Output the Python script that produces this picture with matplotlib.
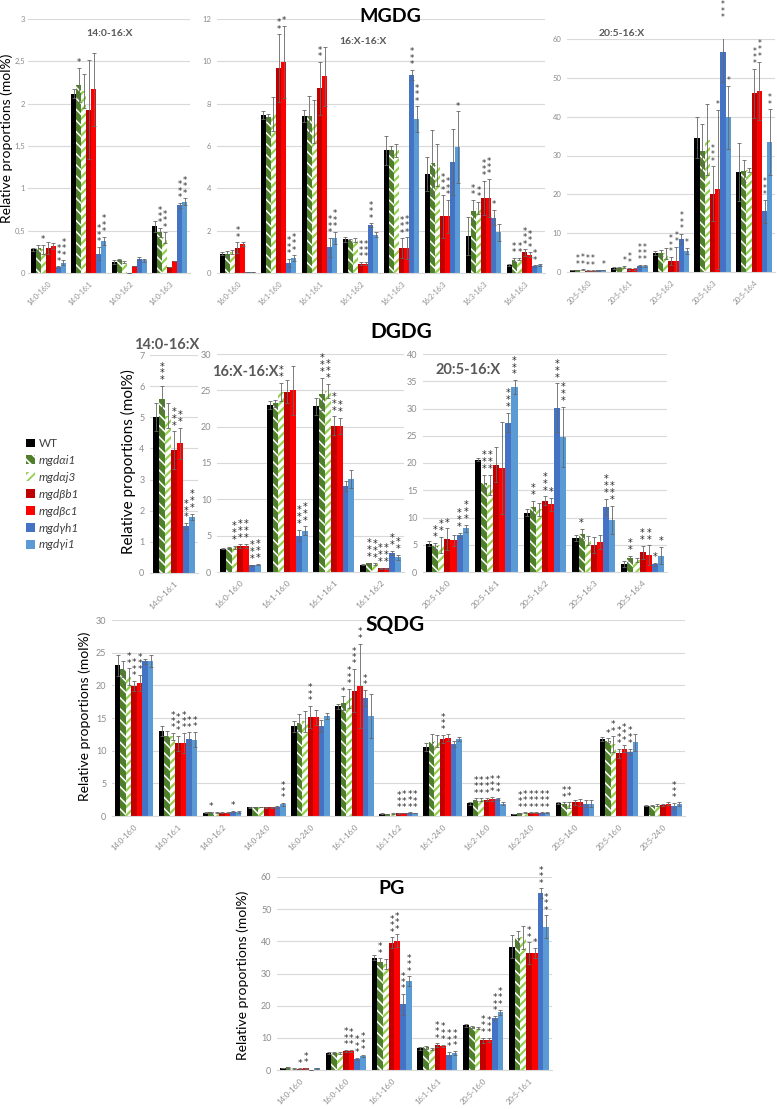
import matplotlib
matplotlib.use("Agg")
import matplotlib.pyplot as plt
from matplotlib.patches import Patch
import numpy as np

plt.rcParams['font.family'] = ['Lato', 'DejaVu Sans']
plt.rcParams['hatch.linewidth'] = 1.3

W, H = 777, 1109

genotypes = ['WT', 'mgdαi1', 'mgdαj3', 'mgdβb1', 'mgdβc1', 'mgdγh1', 'mgdγi1']
face_colors = ['#000000', '#4f7f2a', 'white', '#c00000', '#ff0000', '#4472c4', '#5b9bd5']
edge_colors = ['#000000', 'white', '#92d050', '#c00000', '#ff0000', '#4472c4', '#5b9bd5']
hatches = [None, '\\\\\\', '////', None, None, None, None]
hatch_lws = [1.0, 1.1, 1.6, 1.0, 1.0, 1.0, 1.0]

# ---------------- MGDG ----------------
mgdg1_cats = ['14:0-16:0', '14:0-16:1', '14:0-16:2', '14:0-16:3']
mgdg1_vals = [[0.28, 0.29, 0.28, 0.30, 0.32, 0.07, 0.12],
              [2.12, 2.22, 2.15, 1.93, 2.17, 0.23, 0.38],
              [0.13, 0.15, 0.13, 0.00, 0.08, 0.17, 0.15],
              [0.55, 0.48, 0.42, 0.07, 0.14, 0.80, 0.84]]
mgdg1_errs = [[0.02, 0.04, 0.05, 0.07, 0.04, 0.01, 0.03],
              [0.05, 0.20, 0.20, 0.58, 0.43, 0.08, 0.05],
              [0.02, 0.01, 0.01, 0.00, 0.00, 0.02, 0.02],
              [0.07, 0.05, 0.06, 0.00, 0.00, 0.03, 0.04]]
mgdg1_stars = [[0, 0, 1, 0, 0, 3, 3],
               [0, 1, 0, 0, 0, 3, 3],
               [0, 0, 0, 0, 0, 0, 0],
               [0, 3, 3, 0, 0, 3, 3]]

mgdg2_cats = ['16:0-16:0', '16:1-16:0', '16:1-16:1', '16:1-16:2',
              '16:1-16:3', '16:2-16:3', '16:3-16:3', '16:4-16:3']
mgdg2_vals = [[0.92, 0.90, 1.00, 1.20, 1.38, 0.03, 0.03],
              [7.47, 7.35, 7.50, 9.67, 9.98, 0.47, 0.71],
              [7.42, 7.40, 7.15, 8.73, 9.30, 1.21, 1.65],
              [1.60, 1.55, 1.55, 0.44, 0.44, 2.25, 1.81],
              [5.79, 5.80, 5.80, 1.18, 1.18, 9.36, 7.26],
              [4.67, 5.19, 5.10, 2.67, 2.67, 5.24, 5.93],
              [1.73, 2.95, 3.07, 3.54, 3.54, 2.62, 1.93],
              [0.39, 0.60, 0.66, 0.97, 0.86, 0.31, 0.39]]
mgdg2_errs = [[0.08, 0.15, 0.08, 0.25, 0.10, 0.00, 0.00],
              [0.20, 0.15, 0.80, 1.60, 1.70, 0.20, 0.12],
              [0.30, 0.95, 1.00, 1.25, 1.40, 0.45, 0.30],
              [0.12, 0.05, 0.10, 0.08, 0.08, 0.10, 0.12],
              [0.70, 0.20, 0.30, 0.45, 0.50, 0.25, 0.62],
              [0.80, 1.55, 1.00, 1.00, 0.80, 1.55, 1.70],
              [0.90, 0.50, 0.30, 0.80, 0.90, 0.35, 0.40],
              [0.05, 0.10, 0.05, 0.15, 0.12, 0.05, 0.05]]
mgdg2_stars = [[0, 0, 0, 2, 0, 0, 0],
               [0, 0, 0, 2, 1, 3, 3],
               [0, 0, 0, 2, 0, 3, 3],
               [0, 0, 0, 3, 3, 3, 0],
               [0, 0, 0, 3, 3, 3, 3],
               [0, 0, 0, 3, 3, 0, 1],
               [0, 2, 2, 3, 3, 1, 0],
               [0, 2, 2, 3, 3, 2, 0]]

mgdg3_cats = ['20:5-16:0', '20:5-16:1', '20:5-16:2', '20:5-16:3', '20:5-16:4']
mgdg3_vals = [[0.5, 0.5, 0.6, 0.3, 0.3, 0.4, 0.5],
              [1.0, 1.1, 1.3, 0.7, 0.7, 1.5, 1.5],
              [4.9, 4.8, 4.8, 2.9, 2.9, 8.6, 5.4],
              [34.6, 31.2, 34.1, 20.2, 21.3, 56.6, 39.8],
              [25.8, 26.0, 26.3, 46.0, 46.7, 15.6, 33.4]]
mgdg3_errs = [[0.1, 0.1, 0.1, 0.1, 0.1, 0.1, 0.1],
              [0.3, 0.3, 0.3, 0.3, 0.3, 0.3, 0.3],
              [0.6, 0.8, 1.5, 1.0, 3.5, 1.3, 0.8],
              [5.2, 6.8, 9.2, 7.0, 20.5, 7.6, 8.2],
              [7.4, 2.9, 0.5, 6.3, 7.5, 3.0, 8.5]]
mgdg3_stars = [[0, 2, 2, 2, 2, 0, 1],
               [0, 0, 1, 2, 0, 3, 3],
               [0, 0, 0, 3, 2, 3, 1],
               [0, 0, 0, 3, 1, 3, 1],
               [0, 0, 0, 3, 3, 3, 2]]

# ---------------- DGDG ----------------
dgdg1_cats = ['14:0-16:1']
dgdg1_vals = [[5.0, 5.6, 5.05, 3.95, 4.17, 1.5, 1.8]]
dgdg1_errs = [[0.45, 0.4, 0.4, 0.6, 0.5, 0.1, 0.1]]
dgdg1_stars = [[0, 3, 0, 3, 2, 3, 3]]

dgdg2_cats = ['16:0-16:0', '16:1-16:0', '16:1-16:1', '16:1-16:2']
dgdg2_vals = [[3.2, 3.3, 3.4, 3.6, 3.6, 0.9, 1.0],
              [23.0, 23.2, 24.8, 24.8, 25.0, 5.0, 5.7],
              [22.8, 24.5, 24.9, 20.1, 20.1, 11.8, 12.8],
              [1.0, 1.2, 1.1, 0.5, 0.5, 2.6, 2.0]]
dgdg2_errs = [[0.1, 0.1, 0.2, 0.3, 0.3, 0.1, 0.1],
              [0.5, 0.5, 1.2, 1.6, 3.4, 0.8, 0.6],
              [1.2, 2.2, 1.0, 1.3, 1.1, 0.7, 1.2],
              [0.1, 0.1, 0.1, 0.1, 0.1, 0.3, 0.4]]
dgdg2_stars = [[0, 0, 3, 3, 3, 3, 3],
               [0, 0, 2, 0, 0, 3, 3],
               [0, 3, 3, 3, 2, 0, 0],
               [0, 3, 3, 3, 3, 2, 2]]

dgdg3_cats = ['20:5-16:0', '20:5-16:1', '20:5-16:2', '20:5-16:3', '20:5-16:4']
dgdg3_vals = [[5.2, 4.8, 5.0, 6.0, 5.8, 6.7, 8.0],
              [20.6, 16.3, 16.0, 19.7, 19.1, 27.4, 33.9],
              [10.9, 11.9, 11.5, 13.1, 12.4, 30.1, 24.8],
              [6.2, 7.0, 5.8, 5.0, 5.5, 11.9, 9.5],
              [1.5, 2.5, 2.2, 3.6, 3.1, 1.4, 3.0]]
dgdg3_errs = [[0.5, 0.6, 1.5, 2.0, 1.0, 0.5, 0.7],
              [0.3, 1.5, 1.8, 3.2, 8.4, 1.8, 1.3],
              [0.6, 1.2, 1.2, 0.8, 1.2, 4.5, 5.5],
              [0.6, 0.9, 0.8, 1.5, 1.2, 1.5, 2.6],
              [0.5, 0.5, 0.4, 1.2, 1.8, 0.3, 1.6]]
dgdg3_stars = [[0, 2, 2, 1, 0, 3, 3],
               [0, 3, 3, 0, 0, 3, 3],
               [0, 2, 0, 3, 1, 3, 3],
               [0, 1, 0, 0, 0, 3, 3],
               [0, 2, 0, 2, 2, 1, 1]]

# ---------------- SQDG ----------------
sqdg_cats = ['14:0-16:0', '14:0-16:1', '14:0-16:2', '14:0-24:0', '16:0-24:0',
             '16:1-16:0', '16:1-16:2', '16:1-24:0', '16:2-16:0', '16:2-24:0',
             '20:5-14:0', '20:5-16:0', '20:5-24:0']
sqdg_vals = [[23.1, 22.5, 21.3, 19.9, 20.4, 23.7, 23.7],
             [13.0, 12.3, 12.2, 11.1, 11.2, 11.8, 11.7],
             [0.5, 0.55, 0.5, 0.5, 0.5, 0.65, 0.6],
             [1.35, 1.4, 1.4, 1.35, 1.35, 1.4, 1.8],
             [13.7, 14.3, 14.5, 15.2, 15.1, 13.8, 15.3],
             [16.8, 17.3, 18.0, 19.2, 19.9, 18.1, 15.3],
             [0.35, 0.3, 0.35, 0.4, 0.45, 0.5, 0.45],
             [10.6, 11.4, 11.5, 11.8, 12.0, 11.0, 11.8],
             [1.95, 2.5, 2.5, 2.5, 2.6, 2.6, 1.9],
             [0.3, 0.4, 0.5, 0.5, 0.5, 0.5, 0.5],
             [2.0, 1.8, 1.7, 2.1, 2.1, 1.9, 1.9],
             [11.8, 11.5, 11.0, 9.6, 10.3, 9.8, 11.3],
             [1.6, 1.6, 1.7, 1.7, 1.9, 1.5, 1.9]]
sqdg_errs = [[1.6, 1.2, 1.3, 0.8, 1.2, 0.4, 0.9],
             [0.8, 0.7, 0.5, 1.2, 1.5, 1.0, 1.2],
             [0.1, 0.1, 0.05, 0.05, 0.05, 0.1, 0.1],
             [0.1, 0.05, 0.05, 0.05, 0.05, 0.1, 0.2],
             [0.8, 1.3, 1.6, 1.7, 1.1, 0.9, 0.4],
             [0.4, 1.0, 1.5, 3.3, 6.5, 1.2, 3.3],
             [0.05, 0.05, 0.05, 0.05, 0.05, 0.05, 0.05],
             [0.6, 1.1, 0.9, 0.6, 0.5, 0.5, 0.3],
             [0.2, 0.2, 0.2, 0.2, 0.3, 0.2, 0.2],
             [0.05, 0.05, 0.05, 0.05, 0.05, 0.05, 0.05],
             [0.2, 0.3, 0.5, 0.4, 0.5, 0.5, 0.5],
             [0.3, 0.4, 1.2, 0.7, 0.5, 0.5, 1.3],
             [0.1, 0.1, 0.1, 0.2, 0.2, 0.5, 0.3]]
sqdg_stars = [[0, 0, 2, 3, 3, 0, 0],
              [0, 0, 3, 3, 3, 2, 2],
              [0, 1, 0, 0, 0, 1, 0],
              [0, 0, 0, 0, 0, 0, 3],
              [0, 0, 0, 3, 0, 0, 0],
              [0, 1, 3, 3, 2, 2, 0],
              [0, 0, 0, 3, 3, 3, 3],
              [0, 0, 0, 3, 0, 0, 0],
              [0, 3, 3, 3, 3, 3, 0],
              [0, 3, 3, 3, 3, 3, 3],
              [0, 2, 2, 0, 0, 0, 0],
              [0, 1, 2, 3, 3, 3, 0],
              [0, 0, 0, 0, 0, 3, 0]]

# ---------------- PG ----------------
pg_cats = ['14:0-16:0', '16:0-16:0', '16:1-16:0', '16:1-16:1', '20:5-16:0', '20:5-16:1']
pg_vals = [[0.6, 0.8, 0.5, 0.4, 0.5, 0.0, 0.5],
           [5.3, 5.3, 5.4, 5.9, 5.9, 3.5, 4.4],
           [34.9, 33.7, 33.0, 39.6, 40.2, 20.4, 27.6],
           [6.8, 7.0, 6.5, 7.8, 7.5, 4.8, 5.3],
           [13.9, 13.5, 13.0, 9.3, 9.3, 16.2, 18.0],
           [38.3, 41.0, 41.3, 36.4, 36.4, 55.0, 44.6]]
pg_errs = [[0.1, 0.1, 0.1, 0.1, 0.1, 0.0, 0.1],
           [0.3, 0.3, 0.3, 0.4, 0.3, 0.3, 0.4],
           [0.7, 1.0, 1.5, 1.6, 2.0, 3.2, 1.5],
           [0.5, 0.4, 0.4, 0.5, 0.4, 0.9, 0.6],
           [0.4, 0.3, 0.3, 0.8, 0.6, 0.7, 0.8],
           [3.6, 2.3, 3.6, 3.3, 1.5, 1.5, 3.5]]
pg_stars = [[0, 0, 0, 1, 2, 0, 0],
            [0, 0, 0, 3, 3, 3, 3],
            [0, 2, 0, 3, 3, 3, 3],
            [0, 0, 0, 3, 3, 3, 3],
            [0, 0, 0, 3, 3, 3, 3],
            [0, 0, 0, 2, 1, 3, 3]]

fig = plt.figure(figsize=(W / 100, H / 100), dpi=100)

GRID = '#d9d9d9'
TICK = '#8c8c8c'


def add_ax(x0, x1, y_top, y_zero):
    return fig.add_axes([x0 / W, 1 - y_zero / H, (x1 - x0) / W, (y_zero - y_top) / H])


def style_hatch(patch, g):
    if hasattr(patch, 'set_hatch_linewidth'):
        patch.set_hatch_linewidth(hatch_lws[g])


def panel(ax, cats, vals, errs, stars, ymax, ystep, comma=False,
          yfs=6, xfs=5.5, sfs=6.5):
    vals = np.array(vals)
    errs = np.array(errs)
    n = len(cats)
    x = np.arange(n)
    w = 0.125
    for g in range(7):
        xs = x + (g - 3) * w
        bars = ax.bar(xs, vals[:, g], width=w, color=face_colors[g],
                      edgecolor=edge_colors[g], hatch=hatches[g], linewidth=0, zorder=2)
        for b in bars:
            style_hatch(b, g)
        ax.errorbar(xs, vals[:, g], yerr=errs[:, g], fmt='none', ecolor='#666666',
                    elinewidth=0.6, capsize=1.4, capthick=0.6, zorder=3)
        for c in range(n):
            k = stars[c][g]
            if k:
                ax.annotate('\n'.join(['*'] * k), (xs[c], vals[c, g] + errs[c, g]),
                            xytext=(0, 0.5), textcoords='offset points',
                            ha='center', va='bottom', fontsize=sfs, color='#2b2b2b',
                            linespacing=0.62, family='DejaVu Sans',
                            annotation_clip=False, zorder=4)
    ax.set_xlim(-0.5, n - 0.5)
    ax.set_ylim(0, ymax)
    ticks = np.arange(0, ymax + ystep / 2, ystep)
    ax.set_yticks(ticks)
    if comma:
        labs = [('%g' % t).replace('.', ',') for t in ticks]
    else:
        labs = ['%g' % t for t in ticks]
    ax.set_yticklabels(labs, fontsize=yfs, color=TICK)
    ax.set_xticks(x)
    ax.set_xticklabels(cats, rotation=45, ha='right', rotation_mode='anchor',
                       fontsize=xfs, color=TICK)
    ax.tick_params(axis='both', length=0)
    ax.tick_params(axis='x', pad=5)
    ax.tick_params(axis='y', pad=4)
    ax.grid(axis='y', color=GRID, linewidth=0.8, zorder=0)
    ax.set_axisbelow(True)
    for s in ['top', 'left', 'right']:
        ax.spines[s].set_visible(False)
    ax.spines['bottom'].set_color(GRID)
    ax.spines['bottom'].set_linewidth(0.8)
    ax.patch.set_alpha(0)


# MGDG row
a = add_ax(28, 190, 19, 273)
panel(a, mgdg1_cats, mgdg1_vals, mgdg1_errs, mgdg1_stars, 3, 0.5, comma=True, yfs=5.5, xfs=5, sfs=6)
a.tick_params(axis='y', pad=2)
a = add_ax(217, 545, 19, 273)
panel(a, mgdg2_cats, mgdg2_vals, mgdg2_errs, mgdg2_stars, 12, 2, yfs=5.5, xfs=5, sfs=6)
a = add_ax(567, 775, 39, 272)
panel(a, mgdg3_cats, mgdg3_vals, mgdg3_errs, mgdg3_stars, 60, 10, yfs=5.5, xfs=5, sfs=5.5)

fig.text(390 / W, 1 - 16 / H, 'MGDG', fontsize=14, fontweight='bold', ha='center', va='center')
fig.text(110 / W, 1 - 34 / H, '14:0-16:X', fontsize=7.5, fontweight='bold', color='#595959', ha='center', va='center')
fig.text(363 / W, 1 - 42 / H, '16:X-16:X', fontsize=7.5, fontweight='bold', color='#595959', ha='center', va='center')
fig.text(622 / W, 1 - 33 / H, '20:5-16:X', fontsize=7.5, fontweight='bold', color='#595959', ha='center', va='center')
fig.text(7 / W, 1 - 138 / H, 'Relative proportions (mol%)', fontsize=10, rotation=90, ha='center', va='center')

# DGDG row
a = add_ax(150, 198, 355, 573)
panel(a, dgdg1_cats, dgdg1_vals, dgdg1_errs, dgdg1_stars, 7, 1, yfs=6.5, xfs=6, sfs=7)
a = add_ax(217, 404, 354, 572)
panel(a, dgdg2_cats, dgdg2_vals, dgdg2_errs, dgdg2_stars, 30, 5, yfs=6.5, xfs=6, sfs=7)
a = add_ax(423, 667, 354, 572)
panel(a, dgdg3_cats, dgdg3_vals, dgdg3_errs, dgdg3_stars, 40, 5, yfs=6.5, xfs=6, sfs=7)

fig.text(401 / W, 1 - 332 / H, 'DGDG', fontsize=15, fontweight='bold', ha='center', va='center')
fig.text(167 / W, 1 - 345 / H, '14:0-16:X', fontsize=10.5, fontweight='bold', color='#595959', ha='center', va='center')
fig.text(245 / W, 1 - 372 / H, '16:X-16:X', fontsize=10.5, fontweight='bold', color='#595959', ha='center', va='center')
fig.text(468 / W, 1 - 370 / H, '20:5-16:X', fontsize=10.5, fontweight='bold', color='#595959', ha='center', va='center')
fig.text(128 / W, 1 - 462 / H, 'Relative proportions (mol%)', fontsize=11, rotation=90, ha='center', va='center')

# legend
handles = []
for i in range(7):
    p = Patch(facecolor=face_colors[i], edgecolor=edge_colors[i], hatch=hatches[i], linewidth=0)
    style_hatch(p, i)
    handles.append(p)
leg = fig.legend(handles, genotypes, loc='upper left', bbox_to_anchor=(26 / W, 1 - 438 / H),
                 frameon=False, fontsize=8.5, handlelength=0.75, handleheight=0.75,
                 labelspacing=0.5, handletextpad=0.35, borderaxespad=0, borderpad=0)
for i, t in enumerate(leg.get_texts()):
    t.set_color('#404040')
    if i > 0:
        t.set_fontstyle('italic')

# SQDG
a = add_ax(112, 685, 620, 816)
panel(a, sqdg_cats, sqdg_vals, sqdg_errs, sqdg_stars, 30, 5, yfs=6.5, xfs=5.5, sfs=6.5)
fig.text(395 / W, 1 - 625 / H, 'SQDG', fontsize=15, fontweight='bold', ha='center', va='center')
fig.text(85 / W, 1 - 716 / H, 'Relative proportions (mol%)', fontsize=10, rotation=90, ha='center', va='center')

# PG
a = add_ax(277, 552, 877, 1070)
panel(a, pg_cats, pg_vals, pg_errs, pg_stars, 60, 10, yfs=6.5, xfs=5.5, sfs=6.5)
fig.text(392 / W, 1 - 888 / H, 'PG', fontsize=14, fontweight='bold', ha='center', va='center')
fig.text(243 / W, 1 - 975 / H, 'Relative proportions (mol%)', fontsize=10, rotation=90, ha='center', va='center')

fig.savefig('out.png', dpi=100, facecolor='white')
